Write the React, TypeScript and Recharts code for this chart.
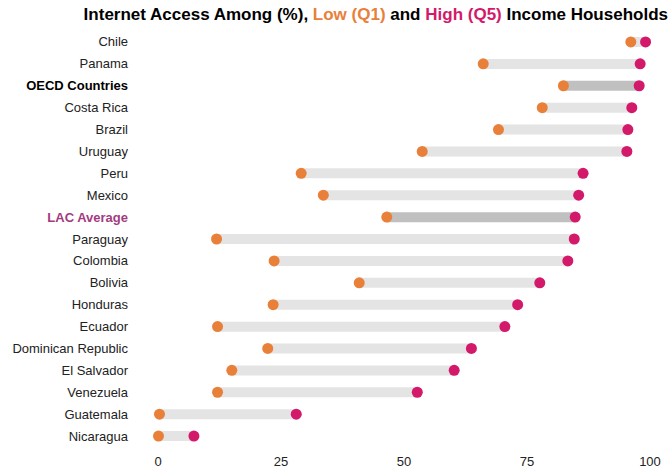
import { ComposedChart, Bar, Line, XAxis, YAxis, Cell } from 'recharts'

const countries = [
  'Chile', 'Panama', 'OECD Countries', 'Costa Rica', 'Brazil', 'Uruguay', 'Peru', 'Mexico',
  'LAC Average', 'Paraguay', 'Colombia', 'Bolivia', 'Honduras', 'Ecuador',
  'Dominican Republic', 'El Salvador', 'Venezuela', 'Guatemala', 'Nicaragua',
]
const lowIncome = [96.1, 66.1, 82.4, 78.1, 69.2, 53.7, 29.1, 33.6, 46.5, 11.9, 23.6, 40.9, 23.4, 12.1, 22.3, 15.0, 12.1, 0.3, 0.1]
const highIncome = [99.1, 98.0, 97.8, 96.3, 95.5, 95.3, 86.4, 85.5, 84.8, 84.6, 83.3, 77.6, 73.1, 70.5, 63.7, 60.2, 52.7, 28.1, 7.3]
const xTicks = [0, 25, 50, 75, 100]

const ORANGE = '#E9803A'
const MAGENTA = '#D3196A'
const FONT = '"Liberation Sans", Arial, sans-serif'

const data = countries.map((name, i) => ({
  name,
  low: lowIncome[i],
  high: highIncome[i],
  span: [lowIncome[i], highIncome[i]],
}))

const isAggregate = (name: string) => name === 'OECD Countries' || name === 'LAC Average'

function CountryTick({ x, y, payload }: any) {
  const name = payload.value as string
  const bold = isAggregate(name)
  const fill = name === 'LAC Average' ? '#A33B80' : bold ? '#000' : '#222'
  return (
    <text x={x} y={y} dy={4.5} textAnchor="end" fontSize={13} fontFamily={FONT} fontWeight={bold ? 700 : 400} fill={fill}>
      {name}
    </text>
  )
}

export default function App() {
  return (
    <div style={{ position: 'absolute', left: 0, top: 0, width: 670, height: 470, background: '#fff', fontFamily: FONT }}>
      <div style={{ position: 'absolute', right: 2, top: 5, fontSize: 17, fontWeight: 700, color: '#000', whiteSpace: 'nowrap' }}>
        Internet Access Among (%), <span style={{ color: ORANGE }}>Low (Q1)</span> and{' '}
        <span style={{ color: MAGENTA }}>High (Q5)</span> Income Households
      </div>
      <ComposedChart
        width={670}
        height={470}
        data={data}
        layout="vertical"
        margin={{ top: 31, right: 20, bottom: 0, left: 0 }}
      >
        <XAxis
          type="number"
          domain={[0, 100]}
          ticks={xTicks}
          axisLine={false}
          tickLine={false}
          tickSize={0}
          tickMargin={10}
          height={23}
          tick={{ fontSize: 13, fontFamily: FONT, fill: '#222' }}
        />
        <YAxis
          type="category"
          dataKey="name"
          width={158}
          axisLine={false}
          tickLine={false}
          tickSize={0}
          tickMargin={30}
          interval={0}
          tick={<CountryTick />}
        />
        <Bar dataKey="span" barSize={10} isAnimationActive={false}>
          {data.map((d) => (
            <Cell key={d.name} fill={isAggregate(d.name) ? '#C0C0C0' : '#E4E4E4'} />
          ))}
        </Bar>
        <Line
          dataKey="low"
          stroke="none"
          dot={{ r: 5.5, fill: ORANGE, stroke: 'none' }}
          activeDot={false}
          isAnimationActive={false}
        />
        <Line
          dataKey="high"
          stroke="none"
          dot={{ r: 5.5, fill: MAGENTA, stroke: 'none' }}
          activeDot={false}
          isAnimationActive={false}
        />
      </ComposedChart>
    </div>
  )
}
